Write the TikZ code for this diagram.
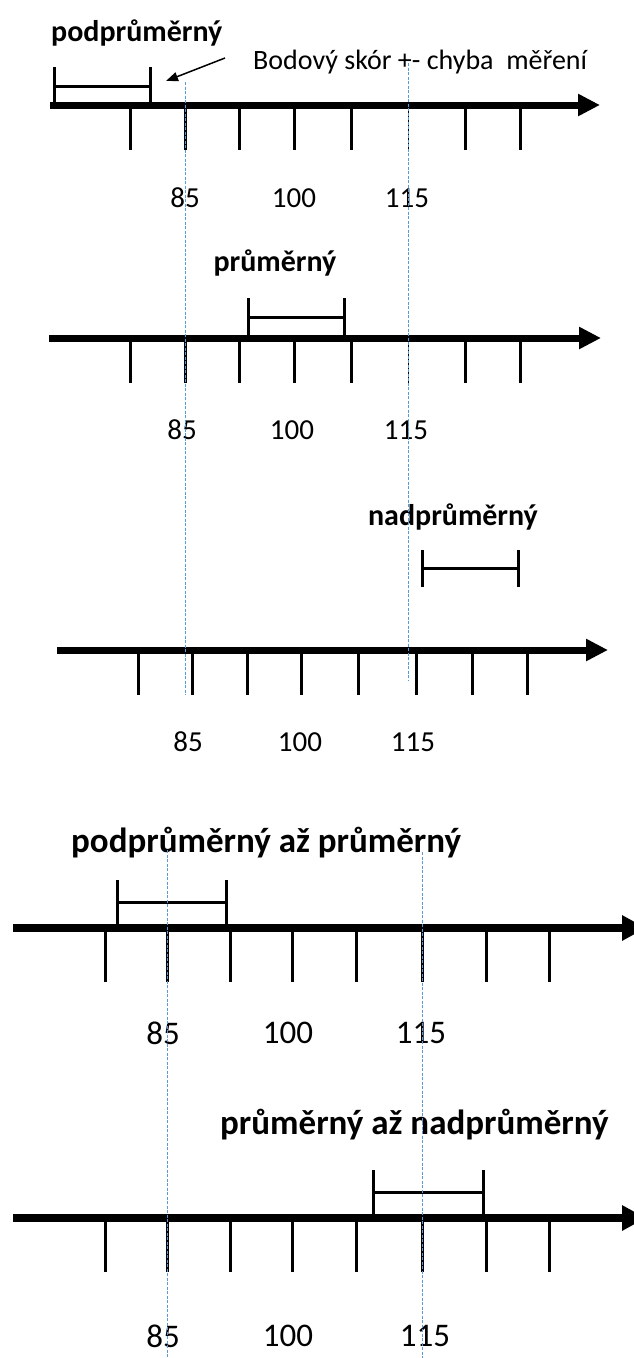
\documentclass[tikz,border=0pt]{standalone}
\usepackage{fontspec}
\setmainfont{Carlito}
\usetikzlibrary{arrows.meta,positioning}
\definecolor{guideblue}{RGB}{91,155,213}
\tikzstyle{scaleaxis} = [line width=7pt, -{Triangle[length=22pt,width=21pt]}]
\tikzstyle{bigaxis} = [line width=8pt, -{Triangle[length=24pt,width=24pt]}]
\tikzstyle{scaletick} = [line width=3pt]
\tikzstyle{errbar} = [line width=3pt]
\tikzstyle{guide} = [line width=1pt, color=guideblue, dash pattern=on 3pt off 1.5pt]
\tikzstyle{rating} = [inner sep=0pt, font=\bfseries\fontsize{30}{36}\selectfont]
\tikzstyle{bigrating} = [inner sep=0pt, font=\bfseries\fontsize{35}{42}\selectfont]
\tikzstyle{score} = [inner sep=0pt, font=\fontsize{29}{35}\selectfont]
\tikzstyle{bigscore} = [inner sep=0pt, font=\fontsize{33}{40}\selectfont]
\tikzstyle{pointer} = [line width=1.5pt, -{Triangle[length=12pt,width=9pt]}]
\begin{document}
\begin{tikzpicture}[x=1pt, y=-1pt]
\useasboundingbox (0,0) rectangle (634,1358);
\clip (0,0) rectangle (634,1358);

% Scale 1: below average
\node (r1) [rating, anchor=west] at (51,33) {podprůměrný};
\node (note) [inner sep=0pt, anchor=west, font=\fontsize{28}{34}\selectfont] at (253,62) {Bodový skór +- chyba\ \ měření};
\coordinate (tip) at (166,81);
\draw[pointer] ([xshift=-28pt,yshift=4pt]note.west) -- (tip);
\draw[errbar] (54,67) -- (54,105) (54,86) -- (150,86) (150,67) -- (150,105);
\draw[scaleaxis] (50,105) -- (600,105);
\foreach \x in {130,185,239,294,351,465,520}
  \draw[scaletick] (\x,105) -- (\x,150);
\draw[line width=1pt] (408,105) -- (408,150);
\node (a85) [score] at (185,198) {85};
\node (a100) [score] at (294,198) {100};
\node (a115) [score] at (407,198) {115};

% Scale 2: average
\node (r2) [rating] at (275,263) {průměrný};
\draw[errbar] (248,298) -- (248,338) (248,317) -- (344,317) (344,298) -- (344,338);
\draw[scaleaxis] (49,338) -- (601,338);
\foreach \x in {130,185,239,294,351,465,520}
  \draw[scaletick] (\x,338) -- (\x,383);
\draw[line width=1pt] (408,338) -- (408,383);
\node (b85) [score] at (182,430) {85};
\node (b100) [score] at (292,430) {100};
\node (b115) [score] at (406,430) {115};

% Scale 3: above average
\node (r3) [rating] at (453,517) {nadprůměrný};
\draw[errbar] (422,550) -- (422,587) (422,568) -- (518,568) (518,550) -- (518,587);
\draw[scaleaxis] (57,650) -- (608,650);
\foreach \x in {138,192,247,301,358,416,472,527}
  \draw[scaletick] (\x,650) -- (\x,695);
\node (c85) [score] at (188,742) {85};
\node (c100) [score] at (300,742) {100};
\node (c115) [score] at (413,742) {115};

% Scale 4: below average to average
\node (r4) [bigrating, anchor=west] at (71,843) {podprůměrný až průměrný};
\draw[errbar] (117,880) -- (117,925) (117,902) -- (226,902) (226,880) -- (226,925);
\draw[bigaxis] (13,928) -- (646,928);
\foreach \x in {105,167,230,292,356,422,486,549}
  \draw[scaletick] (\x,928) -- (\x,982);
\node (d85) [bigscore] at (163,1033) {85};
\node (d100) [bigscore] at (288,1033) {100};
\node (d115) [bigscore] at (421,1033) {115};

% Scale 5: average to above average
\node (r5) [bigrating, anchor=west] at (220,1125) {průměrný až nadprůměrný};
\draw[errbar] (373,1170) -- (373,1215) (373,1192) -- (483,1192) (483,1170) -- (483,1215);
\draw[bigaxis] (13,1218) -- (646,1218);
\foreach \x in {105,167,230,292,356,422,486,549}
  \draw[scaletick] (\x,1218) -- (\x,1272);
\node (e85) [bigscore] at (163,1336) {85};
\node (e100) [bigscore] at (288,1336) {100};
\node (e115) [bigscore] at (425,1336) {115};

% Guides at 85 and 115
\draw[guide] (185,82) -- (185,695);
\draw[guide] (408,63) -- (408,680);
\draw[guide] (167,850) -- (167,1358);
\draw[guide] (422,852) -- (422,1358);
\end{tikzpicture}
\end{document}
